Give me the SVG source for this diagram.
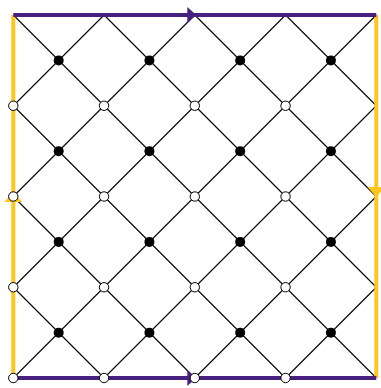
<svg xmlns="http://www.w3.org/2000/svg" width="381" height="388" viewBox="0 0 381 388">
<style>
.g{stroke:#000;stroke-width:1.1;fill:none}
.y{stroke:#fcc71c;stroke-width:4;fill:none}
.p{stroke:#48207f;stroke-width:4;fill:none}
.ya{fill:#fcc71c}
.pa{fill:#48207f}
.w{fill:#fff;stroke:#000;stroke-width:1}
.b{fill:#000}
</style>
<rect width="381" height="388" fill="#fff"/>
<g transform="translate(13.3,15)">
<g id="connectors">
<path class="g" d="M0,0L363,363M90.75,0L363,272.25M181.5,0L363,181.5M272.25,0L363,90.75M0,90.75L272.25,363M0,181.5L181.5,363M0,272.25L90.75,363"/>
<path class="g" d="M90.75,0L0,90.75M181.5,0L0,181.5M272.25,0L0,272.25M363,0L0,363M363,90.75L90.75,363M363,181.5L181.5,363M363,272.25L272.25,363"/>
<path class="y" d="M0,0V363M363,0V363"/>
<path class="p" d="M0,0H363M0,363H363"/>
<polygon class="pa" points="174,-8 183,0 174,8"/>
<polygon class="pa" points="174,355 183,363 174,371"/>
<polygon class="ya" points="0,177 -9,187 9,187"/>
<polygon class="ya" points="354,172 372,172 363,182"/>
</g>
<g id="black-nodes">
<g id="b00"><circle class="b" cx="45.375" cy="45.375" r="5"/></g>
<g id="b10"><circle class="b" cx="136.125" cy="45.375" r="5"/></g>
<g id="b20"><circle class="b" cx="226.875" cy="45.375" r="5"/></g>
<g id="b30"><circle class="b" cx="317.625" cy="45.375" r="5"/></g>
<g id="b01"><circle class="b" cx="45.375" cy="136.125" r="5"/></g>
<g id="b11"><circle class="b" cx="136.125" cy="136.125" r="5"/></g>
<g id="b21"><circle class="b" cx="226.875" cy="136.125" r="5"/></g>
<g id="b31"><circle class="b" cx="317.625" cy="136.125" r="5"/></g>
<g id="b02"><circle class="b" cx="45.375" cy="226.875" r="5"/></g>
<g id="b12"><circle class="b" cx="136.125" cy="226.875" r="5"/></g>
<g id="b22"><circle class="b" cx="226.875" cy="226.875" r="5"/></g>
<g id="b32"><circle class="b" cx="317.625" cy="226.875" r="5"/></g>
<g id="b03"><circle class="b" cx="45.375" cy="317.625" r="5"/></g>
<g id="b13"><circle class="b" cx="136.125" cy="317.625" r="5"/></g>
<g id="b23"><circle class="b" cx="226.875" cy="317.625" r="5"/></g>
<g id="b33"><circle class="b" cx="317.625" cy="317.625" r="5"/></g>
</g>
<g id="white-nodes">
<g id="w01"><circle class="w" cx="0" cy="90.75" r="4.7"/></g>
<g id="w11"><circle class="w" cx="90.75" cy="90.75" r="4.7"/></g>
<g id="w21"><circle class="w" cx="181.5" cy="90.75" r="4.7"/></g>
<g id="w31"><circle class="w" cx="272.25" cy="90.75" r="4.7"/></g>
<g id="w02"><circle class="w" cx="0" cy="181.5" r="4.7"/></g>
<g id="w12"><circle class="w" cx="90.75" cy="181.5" r="4.7"/></g>
<g id="w22"><circle class="w" cx="181.5" cy="181.5" r="4.7"/></g>
<g id="w32"><circle class="w" cx="272.25" cy="181.5" r="4.7"/></g>
<g id="w03"><circle class="w" cx="0" cy="272.25" r="4.7"/></g>
<g id="w13"><circle class="w" cx="90.75" cy="272.25" r="4.7"/></g>
<g id="w23"><circle class="w" cx="181.5" cy="272.25" r="4.7"/></g>
<g id="w33"><circle class="w" cx="272.25" cy="272.25" r="4.7"/></g>
<g id="w04"><circle class="w" cx="0" cy="363" r="4.7"/></g>
<g id="w14"><circle class="w" cx="90.75" cy="363" r="4.7"/></g>
<g id="w24"><circle class="w" cx="181.5" cy="363" r="4.7"/></g>
<g id="w34"><circle class="w" cx="272.25" cy="363" r="4.7"/></g>
</g>
</g>
</svg>
